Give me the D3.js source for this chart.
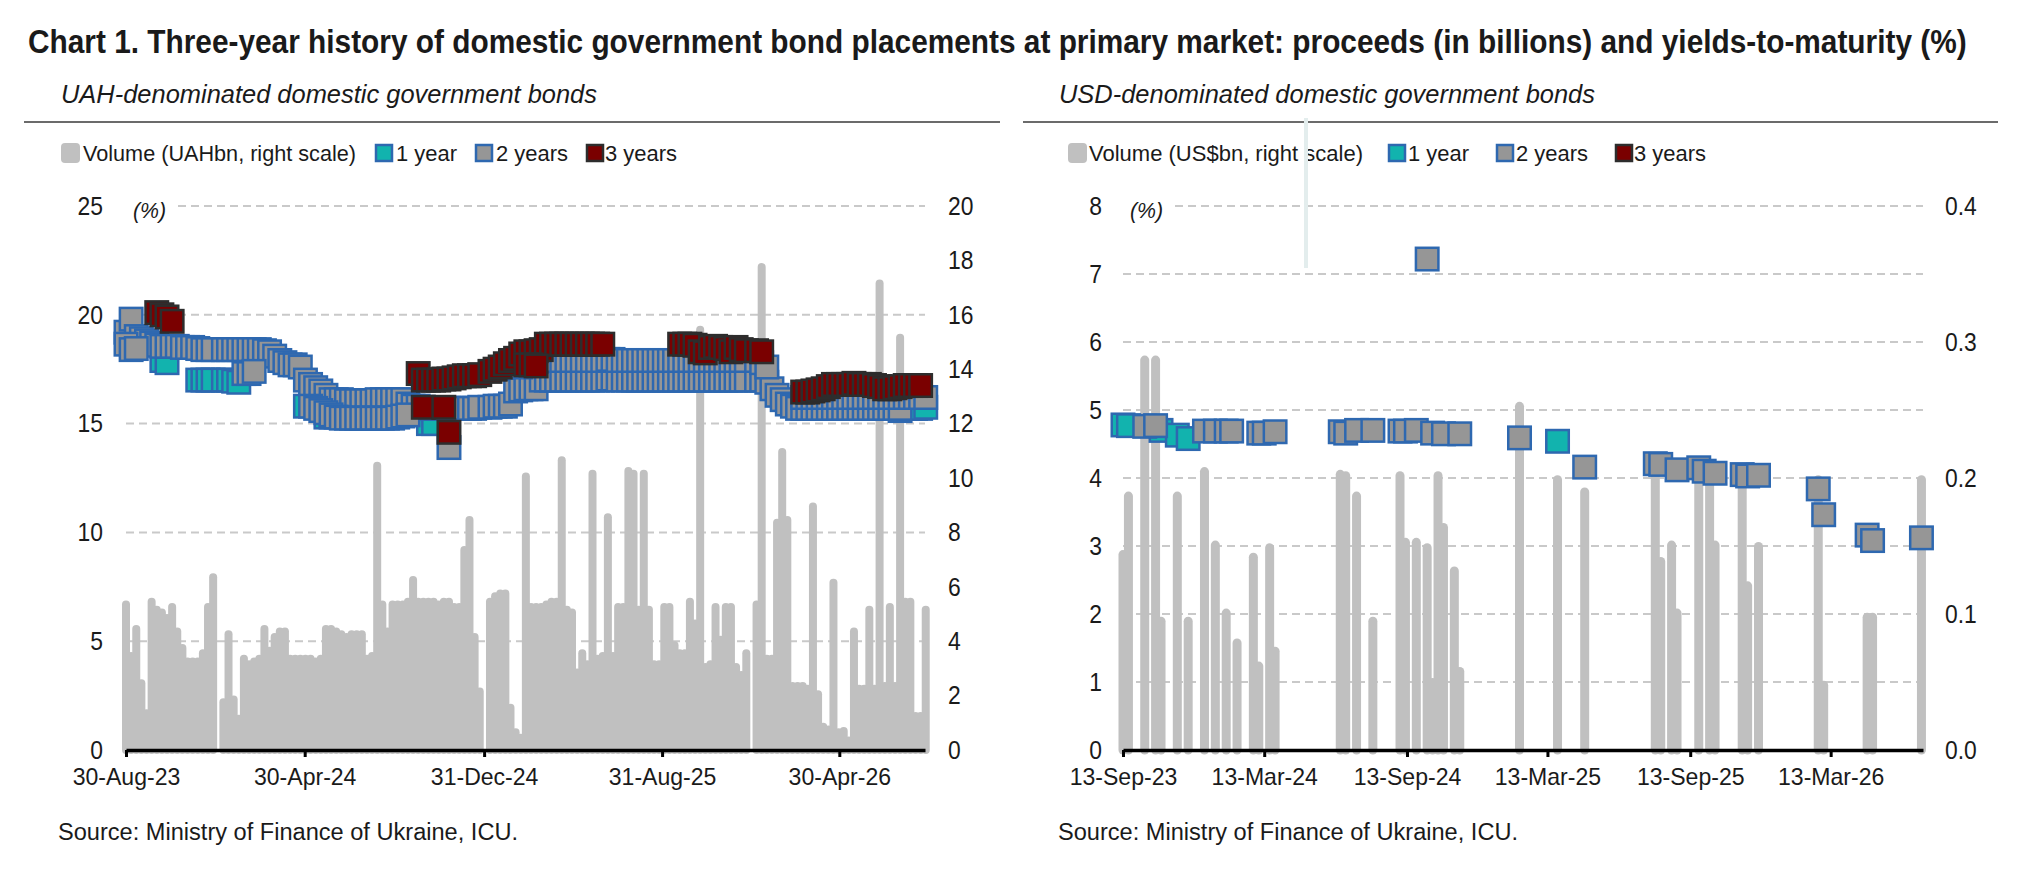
<!DOCTYPE html>
<html>
<head>
<meta charset="utf-8">
<script src="https://cdn.jsdelivr.net/npm/d3@7"></script>
<style>
  body { margin: 0; background: #fff; }
  svg text { font-family: "Liberation Sans", Arial, Helvetica, sans-serif; fill: #1a1a1a; }
</style>
</head>
<body>
<svg id="chart" width="2022" height="871"></svg>
<script>
const titleText = "Chart 1. Three-year history of domestic government bond placements at primary market: proceeds (in billions) and yields-to-maturity (%)"
const sourceText = "Source: Ministry of Finance of Ukraine, ICU."

// ---- UAH panel: weekly auctions starting 30-Aug-23 (index = week number)
const uahStart = "2023-08-30"
const uahDomain = ["2023-08-30", "2026-08-25"]
const uahTicks = ["2023-08-30", "2024-04-30", "2024-12-31", "2025-08-31", "2026-04-30"]
const uahYieldTicks = [0, 5, 10, 15, 20, 25]
const uahVolumeTicks = [0, 2, 4, 6, 8, 10, 12, 14, 16, 18, 20]

// volume, UAH bn
const uahVolume = [
  5.5, 3.6, 4.6, 2.6, 1.5, 5.6, 5.3, 5.2, 5.0, 5.4,          // w0
  4.5, 3.9, 3.4, 3.4, 3.4, 3.7, 5.4, 6.5, null, 1.9,         // w10
  4.4, 2.0, 1.3, 3.5, 3.3, 3.4, 3.5, 4.6, 3.8, 4.3,          // w20
  4.5, 4.5, 3.5, 3.5, 3.5, 3.5, 3.5, 3.4, 3.5, 4.6,          // w30
  4.6, 4.5, 4.4, 4.3, 4.4, 4.4, 4.4, 3.5, 3.6, 10.6,         // w40
  5.5, 4.5, 5.5, 5.5, 5.5, 5.6, 6.4, 5.6, 5.6, 5.6,          // w50
  5.6, 5.5, 5.6, 5.6, 5.4, 5.4, 7.5, 8.6, 4.3, 2.3,          // w60
  null, 5.6, 5.8, 5.9, 5.9, 1.7, 0.8, 0.6, 10.2, 5.4,        // w70
  5.4, 5.4, 5.5, 5.6, 5.6, 10.8, 5.3, 5.2, 3.0, 3.7,         // w80
  3.3, 10.3, 3.5, 3.6, 8.7, 3.6, 5.4, 5.4, 10.4, 10.3,       // w90
  5.3, 10.3, 5.3, 3.3, 3.3, 5.4, 5.4, 4.0, 3.7, 3.7,         // w100
  5.6, 4.8, 15.6, 3.2, 3.3, 5.4, 4.2, 5.4, 5.4, 3.2,         // w110
  2.9, 3.7, null, 5.5, 17.9, 3.5, 3.5, 8.5, 11.1, 8.6,       // w120
  2.5, 2.5, 2.5, 2.4, 9.1, 2.2, 1.0, 0.9, 6.3, 0.8,          // w130
  0.85, 0.5, 4.5, 2.4, 2.4, 5.3, 2.4, 17.3, 2.5, 5.4,        // w140
  2.5, 15.3, 5.6, 5.6, 1.4, 1.4, 5.3                         // w150
]

// 2-year yields, %
const uah2y = [
  19.2, 19.8, 19.0, 18.9, 18.8, 18.7, 18.6, 18.55, 18.55, 18.55,
  18.55, 18.5, 18.5, 18.5, 18.45, 18.4, 18.4, 18.4, null, 18.4,
  18.4, 18.4, 18.4, 18.4, 18.4, 18.4, 18.4, 18.35, 18.3, 18.1,
  17.9, 17.8, 17.7, 17.7, 17.6, 17.0, 16.8, 16.65, 16.5, 16.3,
  16.1, 16.1, 16.1, 16.05, 16.05, 16.05, 16.05, 16.05, 16.05, 16.1,
  16.1, 16.1, 16.1, 16.1, 16.1, 15.9, 15.8, 15.8, 15.75, 15.7,
  15.7, 15.7, 15.7, 15.7, 15.7, 15.7, 15.7, 15.7, 15.7, 15.75,
  null, 15.75, 15.8, 15.8, 15.8, 15.9, 16.5, 16.55, 16.6, 16.6,
  16.6, 17.0, 17.0, 17.0, 17.0, 17.0, 17.0, 17.0, 17.0, 17.0,
  17.0, 17.0, 17.0, 17.0, 17.05, 17.05, 17.0, 17.0, 17.0, 17.0,
  17.0, 17.0, 17.0, 17.0, 17.0, 17.0, 17.0, 17.0, 17.0, 17.0,
  17.0, 17.0, 17.0, 17.0, 17.0, 17.0, 17.0, 17.0, 17.0, 17.0,
  17.0, 17.0, null, 17.0, 17.0, 16.9, 16.6, 16.3, 16.1, 15.9,
  15.8, 15.7, 15.7, 15.7, 15.7, 15.7, 15.7, 15.7, 15.7, 15.7,
  15.7, 15.7, 15.7, 15.7, 15.7, 15.7, 15.7, 15.7, 15.7, 15.7,
  15.7, 15.7, null, null, null, null, null
]

// second 2-year placement in the same week
const uah2yExtra = [
  18.65, 18.4, 18.45, null, null, null, null, null, null, null,
  null, null, null, null, null, null, null, null, null, null,
  null, null, null, 17.3, 17.3, 17.4, null, null, null, null,
  null, null, null, null, null, null, 15.8, 15.7, 15.6, 15.5,
  15.4, 15.3, 15.25, 15.25, 15.25, 15.25, 15.25, 15.25, 15.25, 15.25,
  15.25, 15.25, 15.25, 15.3, 15.35, 15.4, null, null, null, null,
  null, null, null, 13.9, null, null, null, null, null, null,
  null, null, null, null, null, null, null, 17.6, 17.7, 17.8,
  17.85, 17.9, 17.9, 17.9, 17.9, 17.9, 17.9, 17.9, 17.9, 17.9,
  17.9, 17.9, 17.9, 17.9, 17.95, 17.95, 17.9, 17.9, 17.9, 17.9,
  17.9, 17.9, 17.9, 17.9, 17.9, 17.9, 17.9, 17.9, 17.9, 17.9,
  17.9, 17.9, 17.9, 17.9, 17.9, 17.9, 17.9, 17.9, 17.9, 17.9,
  17.9, 17.9, null, 17.9, 17.8, 17.6, null, null, null, null,
  null, null, 16.2, 16.2, 16.2, 16.2, 16.2, 16.2, 16.2, 16.2,
  16.2, 16.2, 16.2, 16.2, 16.2, 16.2, 16.2, 16.2, 16.2, 16.2,
  16.2, 16.2, 16.2, 16.2, 16.2, 16.2, 16.2
]

// 3-year yields, %
const uah3y = [
  null, null, null, null, null, null, 20.1, 20.0, 19.9, 19.7,
  null, null, null, null, null, null, null, null, null, null,
  null, null, null, null, null, null, null, null, null, null,
  null, null, null, null, null, null, null, null, null, null,
  null, null, null, null, null, null, null, null, null, null,
  null, null, null, null, null, null, null, 17.3, 17.0, 17.0,
  17.0, 17.0, 17.05, 17.05, 17.1, 17.15, 17.2, 17.2, 17.2, 17.25,
  null, 17.4, 17.5, 17.6, 17.75, 17.9, 18.0, 18.2, 18.3, 18.3,
  18.35, 18.4, 18.65, 18.65, 18.65, 18.65, 18.65, 18.65, 18.65, 18.65,
  18.65, 18.65, 18.65, 18.65, null, null, null, null, null, null,
  null, null, null, null, null, null, null, null, 18.65, 18.65,
  18.65, 18.6, 18.3, 18.25, 18.5, 18.55, 18.5, 18.45, 18.3, 18.5,
  18.4, 18.35, null, 18.35, 18.3, null, null, null, null, null,
  null, null, 16.45, 16.45, 16.5, 16.55, 16.6, 16.7, 16.8, 16.8,
  16.8, 16.8, 16.85, 16.8, 16.8, 16.8, 16.75, 16.7, 16.6, 16.6,
  16.65, 16.7, 16.75, 16.75, 16.75, 16.75, null
]

// sparse series as [week, yield]
const uah1y = [
  [7, 17.9], [8, 17.8], [14, 17.0], [15, 17.0], [16, 17.0], [17, 17.0], [19, 17.0],
  [20, 17.0], [21, 16.95], [22, 16.9], [35, 15.8], [39, 15.3], [40, 15.3],
  [59, 15.0], [60, 15.0], [122, 17.2], [123, 17.15],
  [151, 15.6], [152, 15.7], [153, 15.7], [154, 15.7], [155, 15.7], [156, 15.75]
]
const uah3yExtra = [[58, 15.75], [62, 15.75], [63, 14.6], [78, 17.7], [79, 17.7], [80, 17.65]]

// ---- USD panel
const usdDomain = ["2023-09-13", "2026-07-10"]
const usdTicks = ["2023-09-13", "2024-03-13", "2024-09-13", "2025-03-13", "2025-09-13", "2026-03-13"]
const usdYieldTicks = [0, 1, 2, 3, 4, 5, 6, 7, 8]
const usdVolumeTicks = [0, 0.1, 0.2, 0.3, 0.4]

// volume, US$ bn
const usdVolume = [
  ["2023-09-13", 0.147], ["2023-09-20", 0.19], ["2023-10-11", 0.29], ["2023-10-25", 0.29],
  ["2023-11-01", 0.098], ["2023-11-22", 0.19], ["2023-12-06", 0.098], ["2023-12-27", 0.208],
  ["2024-01-10", 0.154], ["2024-01-24", 0.104], ["2024-02-07", 0.082], ["2024-02-28", 0.145],
  ["2024-03-06", 0.065], ["2024-03-20", 0.152], ["2024-03-27", 0.076], ["2024-06-19", 0.206],
  ["2024-06-26", 0.205], ["2024-07-10", 0.19], ["2024-07-31", 0.098], ["2024-09-04", 0.205],
  ["2024-09-11", 0.156], ["2024-09-25", 0.156], ["2024-10-09", 0.152], ["2024-10-16", 0.053],
  ["2024-10-23", 0.205], ["2024-10-30", 0.167], ["2024-11-13", 0.135], ["2024-11-20", 0.061],
  ["2025-02-05", 0.256], ["2025-03-26", 0.202], ["2025-04-30", 0.193], ["2025-07-30", 0.205],
  ["2025-08-06", 0.142], ["2025-08-20", 0.154], ["2025-08-27", 0.104], ["2025-09-24", 0.205],
  ["2025-10-08", 0.205], ["2025-10-15", 0.154], ["2025-11-19", 0.2], ["2025-11-26", 0.124],
  ["2025-12-10", 0.153], ["2026-02-25", 0.202], ["2026-03-04", 0.051], ["2026-04-29", 0.101],
  ["2026-05-06", 0.101], ["2026-07-08", 0.202]
]
const usd1y = [
  ["2023-09-13", 4.78], ["2023-09-20", 4.77], ["2023-11-01", 4.7], ["2023-11-22", 4.63],
  ["2023-12-06", 4.58], ["2025-03-26", 4.54]
]
const usd2y = [
  ["2023-10-11", 4.76], ["2023-10-25", 4.77], ["2023-12-27", 4.69], ["2024-01-10", 4.69],
  ["2024-01-24", 4.69], ["2024-01-31", 4.69], ["2024-03-06", 4.66], ["2024-03-13", 4.66],
  ["2024-03-27", 4.68], ["2024-06-19", 4.68], ["2024-06-26", 4.66], ["2024-07-10", 4.7],
  ["2024-07-31", 4.7], ["2024-09-04", 4.69], ["2024-09-11", 4.69], ["2024-09-25", 4.7],
  ["2024-10-09", 7.22], ["2024-10-16", 4.66], ["2024-10-30", 4.65], ["2024-11-20", 4.65],
  ["2025-02-05", 4.59], ["2025-04-30", 4.16], ["2025-07-30", 4.21], ["2025-08-06", 4.2],
  ["2025-08-27", 4.12], ["2025-09-24", 4.15], ["2025-10-01", 4.1], ["2025-10-15", 4.07],
  ["2025-11-19", 4.05], ["2025-11-26", 4.03], ["2025-12-10", 4.04], ["2026-02-25", 3.84],
  ["2026-03-04", 3.46], ["2026-04-29", 3.16], ["2026-05-06", 3.08], ["2026-07-08", 3.12]
]
const usd3y = []

const parse = d3.timeParse("%Y-%m-%d")
const fmt = d3.timeFormat("%d-%b-%y")
const uahDate = i => d3.timeDay.offset(parse(uahStart), 7 * i)
const weekly = arr => arr.map((v, i) => [uahDate(i), v]).filter(d => d[1] != null)
const byWeek = arr => arr.map(([w, v]) => [uahDate(w), v])
const dated = arr => arr.map(([d, v]) => [parse(d), v])

const style = {
  y1: { fill: "#12b3ae", stroke: "#2e68b0" },
  y2: { fill: "#969696", stroke: "#2e68b0" },
  y3: { fill: "#7a0000", stroke: "#2d2d2d" },
  bar: "#c0c0c0",
  grid: "#c9c9c9"
}

const svg = d3.select("#chart")

// the source uses a narrow face; squeeze the regular one to the measured width
function fitText(t, w) {
  t.attr("textLength", w).attr("lengthAdjust", "spacingAndGlyphs")
  return t
}

function narrow(sel, k) {
  sel.each(function () {
    const len = this.getComputedTextLength()
    d3.select(this).attr("textLength", len * k).attr("lengthAdjust", "spacingAndGlyphs")
  })
}

// title: scaled horizontally so its box matches the drawn width
const title = svg.append("text")
  .attr("font-size", 33).attr("font-weight", "bold")
  .text(titleText)
const titleLen = title.node().getComputedTextLength()
title.attr("transform", `translate(28,53) scale(${1940 / titleLen},1)`)

function drawPanel(p) {
  const g = svg.append("g")
  const x = d3.scaleTime().domain(p.domain.map(parse)).range([p.x0, p.x1])
  const yL = d3.scaleLinear().domain([0, d3.max(p.leftTicks)]).range([p.y0, p.y1])
  const yR = d3.scaleLinear().domain([0, d3.max(p.rightTicks)]).range([p.y0, p.y1])

  // header
  fitText(g.append("text")
    .attr("x", p.subX).attr("y", 103)
    .attr("font-size", 25).attr("font-style", "italic")
    .text(p.subtitle), 536)

  g.append("line")
    .attr("x1", p.ruleX[0]).attr("x2", p.ruleX[1])
    .attr("y1", 122).attr("y2", 122)
    .attr("stroke", "#3a3a3a").attr("stroke-width", 1.5)

  // legend
  const legend = g.append("g")
  p.legend.forEach(item => {
    if (item.key === "vol") {
      legend.append("rect")
        .attr("x", item.sx).attr("y", 143).attr("width", 19).attr("height", 20).attr("rx", 4)
        .attr("fill", style.bar)
    } else {
      legend.append("rect")
        .attr("x", item.sx + 1).attr("y", 145).attr("width", 16).attr("height", 16)
        .attr("fill", style[item.key].fill).attr("stroke", style[item.key].stroke).attr("stroke-width", 2.5)
    }
    fitText(legend.append("text")
      .attr("x", item.tx).attr("y", 161)
      .attr("font-size", 22)
      .text(item.label), item.tw)
  })

  // grid
  const top = d3.max(p.leftTicks)
  g.append("g").selectAll("line")
    .data(p.leftTicks.filter(t => t > 0))
    .join("line")
    .attr("x1", t => t === top ? p.x0 + 52 : p.x0)
    .attr("x2", p.x1)
    .attr("y1", t => yL(t)).attr("y2", t => yL(t))
    .attr("stroke", style.grid).attr("stroke-width", 2)
    .attr("stroke-dasharray", "8,5")

  g.append("text")
    .attr("class", "pct")
    .attr("x", p.x0 + 7).attr("y", p.y1 + 12)
    .attr("font-size", 22).attr("font-style", "italic")
    .text("(%)")

  // volume bars (right scale)
  g.append("g").selectAll("line")
    .data(p.volume)
    .join("line")
    .attr("x1", d => x(d[0])).attr("x2", d => x(d[0]))
    .attr("y1", yR(0))
    .attr("y2", d => Math.min(yR(0), yR(d[1]) + p.barWidth / 2))
    .attr("stroke", style.bar)
    .attr("stroke-width", p.barWidth)
    .attr("stroke-linecap", "round")

  // yield markers (left scale)
  p.markers.forEach(m => {
    const s = style[m.key]
    g.append("g").selectAll("rect")
      .data(m.data)
      .join("rect")
      .attr("x", d => x(d[0]) - 11.25)
      .attr("y", d => yL(d[1]) - 11.25)
      .attr("width", 22.5).attr("height", 22.5)
      .attr("fill", s.fill).attr("stroke", s.stroke).attr("stroke-width", 2.5)
  })

  // axes
  g.append("g")
    .attr("class", "yaxis")
    .attr("transform", `translate(${p.x0},0)`)
    .call(d3.axisLeft(yL).tickValues(p.leftTicks).tickSize(0).tickPadding(p.padL))
    .call(a => a.select(".domain").remove())
    .attr("font-size", 26)

  g.append("g")
    .attr("class", "yaxis")
    .attr("transform", `translate(${p.x1},0)`)
    .call(d3.axisRight(yR).tickValues(p.rightTicks).tickFormat(p.rightFormat).tickSize(0).tickPadding(p.padR))
    .call(a => a.select(".domain").remove())
    .attr("font-size", 26)

  g.append("g")
    .attr("class", "xaxis")
    .attr("transform", `translate(0,${p.y0})`)
    .call(d3.axisBottom(x).tickValues(p.ticks.map(parse)).tickFormat(fmt)
      .tickSize(7).tickSizeOuter(0).tickPadding(11))
    .call(a => a.select(".domain").attr("stroke", "#000").attr("stroke-width", 3.5))
    .call(a => a.selectAll(".tick line").attr("stroke", "#000").attr("stroke-width", 3))
    .attr("font-size", 24)

  fitText(g.append("text")
    .attr("x", p.sourceX).attr("y", 840)
    .attr("font-size", 23)
    .text(sourceText), 460)

  return g
}

drawPanel({
  subtitle: "UAH-denominated domestic government bonds",
  subX: 61, ruleX: [24, 1000], sourceX: 58,
  domain: uahDomain, ticks: uahTicks,
  x0: 126, x1: 925, y0: 750, y1: 206,
  leftTicks: uahYieldTicks, rightTicks: uahVolumeTicks, rightFormat: d3.format("d"),
  padL: 23, padR: 23, barWidth: 8,
  volume: weekly(uahVolume),
  markers: [
    { key: "y1", data: byWeek(uah1y) },
    { key: "y2", data: weekly(uah2y) },
    { key: "y2", data: weekly(uah2yExtra) },
    { key: "y3", data: weekly(uah3y) },
    { key: "y3", data: byWeek(uah3yExtra) }
  ],
  legend: [
    { key: "vol", sx: 61, tx: 83, tw: 273, label: "Volume (UAHbn, right scale)" },
    { key: "y1", sx: 375, tx: 396, tw: 61, label: "1 year" },
    { key: "y2", sx: 475, tx: 496, tw: 72, label: "2 years" },
    { key: "y3", sx: 586, tx: 605, tw: 72, label: "3 years" }
  ]
})

const usdPanel = drawPanel({
  subtitle: "USD-denominated domestic government bonds",
  subX: 1059, ruleX: [1023, 1998], sourceX: 1058,
  domain: usdDomain, ticks: usdTicks,
  x0: 1123, x1: 1923, y0: 750, y1: 206,
  leftTicks: usdYieldTicks, rightTicks: usdVolumeTicks, rightFormat: d3.format(".1f"),
  padL: 21, padR: 22, barWidth: 9,
  volume: dated(usdVolume),
  markers: [
    { key: "y1", data: dated(usd1y) },
    { key: "y2", data: dated(usd2y) },
    { key: "y3", data: dated(usd3y) }
  ],
  legend: [
    { key: "vol", sx: 1068, tx: 1089, tw: 274, label: "Volume (US$bn, right scale)" },
    { key: "y1", sx: 1388, tx: 1408, tw: 61, label: "1 year" },
    { key: "y2", sx: 1496, tx: 1516, tw: 72, label: "2 years" },
    { key: "y3", sx: 1615, tx: 1634, tw: 72, label: "3 years" }
  ]
})

// faint stray vertical stroke present in the source image
usdPanel.append("line")
  .attr("x1", 1306).attr("x2", 1306).attr("y1", 118).attr("y2", 268)
  .attr("stroke", "#e3eded").attr("stroke-width", 4)

// narrow-face proportions for tick labels
narrow(svg.selectAll(".yaxis text"), 0.88)
narrow(svg.selectAll(".xaxis text"), 0.96)
narrow(svg.selectAll(".pct"), 0.97)
</script>
</body>
</html>
